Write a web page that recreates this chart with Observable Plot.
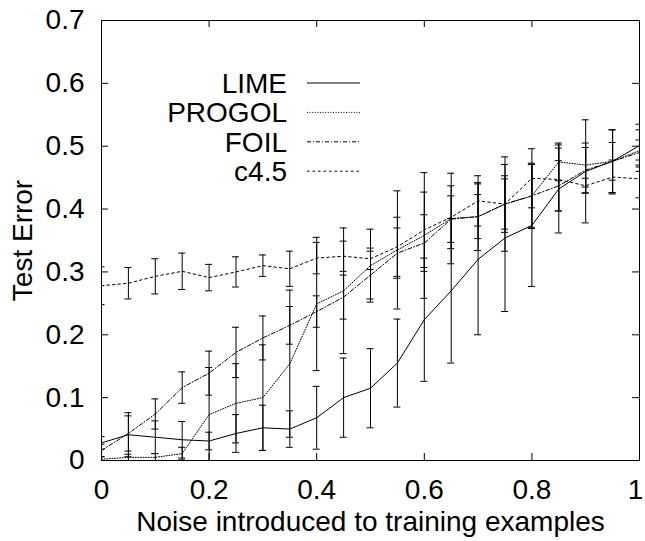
<!DOCTYPE html>
<html><head><meta charset="utf-8">
<script src="https://cdn.jsdelivr.net/npm/d3@7"></script>
<script src="https://cdn.jsdelivr.net/npm/@observablehq/plot@0.6"></script>
<style>html,body{margin:0;padding:0;background:#fff} svg{display:block}</style>
</head><body><div id="chart"></div>
<script>
const noise = [0,0.05,0.1,0.15,0.2,0.25,0.3,0.35,0.4,0.45,0.5,0.55,0.6,0.65,0.7,0.75,0.8,0.85,0.9,0.95,1];
const limeMean = [0.028,0.041,0.037,0.033,0.031,0.043,0.052,0.05,0.068,0.1,0.115,0.155,0.224,0.27,0.32,0.354,0.374,0.432,0.46,0.476,0.501];
const limeErr  = [0.01,0.035,0.026,0.029,0.014,0.03,0.036,0.029,0.05,0.063,0.063,0.07,0.098,0.115,0.12,0.117,0.097,0.07,0.082,0.05,0.034];
const progolMean = [0.002,0.005,0.005,0.011,0.073,0.091,0.1,0.154,0.249,0.27,0.31,0.335,0.358,0.385,0.388,0.408,0.421,0.475,0.47,0.476,0.493];
const progolErr  = [0.004,0.005,0.006,0.01,0.075,0.063,0.084,0.117,0.106,0.1,0.058,0.094,0.1,0.072,0.054,0.075,0.052,0.03,0.035,0.03,0.033];
const foilMean = [0.016,0.043,0.074,0.116,0.139,0.172,0.195,0.215,0.237,0.26,0.295,0.33,0.346,0.384,0.388,0.408,0.421,0.437,0.462,0.476,0.49];
const foilErr  = [0.01,0.028,0.024,0.025,0.035,0.04,0.035,0.03,0.025,0.035,0.038,0.04,0.045,0.037,0.035,0.04,0.05,0.04,0.036,0.05,0.02];
const c45Mean = [0.278,0.282,0.293,0.301,0.291,0.3,0.31,0.305,0.322,0.325,0.321,0.34,0.367,0.387,0.413,0.408,0.449,0.447,0.437,0.451,0.448];
const c45Err  = [0.03,0.025,0.028,0.029,0.021,0.024,0.017,0.028,0.025,0.024,0.017,0.047,0.06,0.05,0.04,0.045,0.047,0.05,0.012,0.027,0.03];
const seriesNames = ["LIME","PROGOL","FOIL","c4.5"];
const xTicks = [0,0.2,0.4,0.6,0.8,1];
const yTicks = [0,0.1,0.2,0.3,0.4,0.5,0.6,0.7];
const xLabel = "Noise introduced to training examples";
const yLabel = "Test Error";

const means = [limeMean, progolMean, foilMean, c45Mean];
const errs = [limeErr, progolErr, foilErr, c45Err];
const dashes = [null, "1,1.6", "4,2,1,2", "2.5,3"];

const W = 645, H = 541, mL = 101, mR = 6, mT = 20, mB = 81;
const pw = W - mL - mR, ph = H - mT - mB;
const font = "'Liberation Sans', Arial, Helvetica, sans-serif";
const fs = 28;

const marks = [];
seriesNames.forEach((name, k) => {
  const rows = noise.map((x, i) => ({x, y: means[k][i], lo: means[k][i] - errs[k][i], hi: means[k][i] + errs[k][i]}));
  marks.push(Plot.ruleX(rows, {x: "x", y1: "lo", y2: "hi", stroke: "black", strokeWidth: 1, clip: true}));
  marks.push(Plot.ruleY(rows, {y: "hi", x1: "x", x2: "x", insetLeft: -3.5, insetRight: -3.5, stroke: "black", strokeWidth: 1, clip: true}));
  marks.push(Plot.ruleY(rows, {y: "lo", x1: "x", x2: "x", insetLeft: -3.5, insetRight: -3.5, stroke: "black", strokeWidth: 1, clip: true}));
  marks.push(Plot.line(rows, {x: "x", y: "y", stroke: "black", strokeWidth: 1, strokeDasharray: dashes[k]}));
});

const lastTick = xTicks[xTicks.length - 1];
const chart = Plot.plot({
  width: W, height: H,
  marginLeft: mL, marginRight: mR, marginTop: mT, marginBottom: mB,
  style: {fontFamily: font, fontSize: fs + "px", background: "#fff", color: "black"},
  x: {domain: [0, 1]},
  y: {domain: [0, 0.7]},
  marks: [
    Plot.axisX({ticks: xTicks.slice(0, -1), tickSize: 0, tickPadding: 19, tickFormat: d => String(d), fontSize: fs,
      label: xLabel, labelAnchor: "center", labelArrow: "none", labelOffset: 70}),
    Plot.axisX({ticks: [lastTick], tickSize: 0, tickPadding: 19, tickFormat: d => String(d), fontSize: fs, dx: -4, label: null}),
    Plot.axisY({ticks: yTicks, tickSize: 0, tickPadding: 17, tickFormat: d => String(d), fontSize: fs,
      label: yLabel, labelAnchor: "center", labelArrow: "none", labelOffset: 89}),
    Plot.tickX(xTicks, {x: d => d, insetTop: ph - 7, stroke: "black"}),
    Plot.tickX(xTicks, {x: d => d, insetBottom: ph - 7, stroke: "black"}),
    Plot.tickY(yTicks, {y: d => d, insetRight: pw - 7, stroke: "black"}),
    Plot.tickY(yTicks, {y: d => d, insetLeft: pw - 7, stroke: "black"}),
    ...marks,
    Plot.frame({stroke: "black", strokeWidth: 1})
  ]
});
document.getElementById("chart").appendChild(chart);

// key (legend) drawn inside the plot area, as gnuplot does
const svg = d3.select(chart);
const key = svg.append("g").attr("font-family", font).attr("font-size", fs);
seriesNames.forEach((name, k) => {
  const yRow = 83 + k * 29.4;
  key.append("text").attr("x", 287).attr("y", yRow + 10).attr("text-anchor", "end").attr("fill", "black").text(name);
  const ln = key.append("line").attr("x1", 307).attr("x2", 360).attr("y1", yRow).attr("y2", yRow)
    .attr("stroke", "black").attr("stroke-width", 1);
  if (dashes[k]) ln.attr("stroke-dasharray", dashes[k]);
});
</script></body></html>
